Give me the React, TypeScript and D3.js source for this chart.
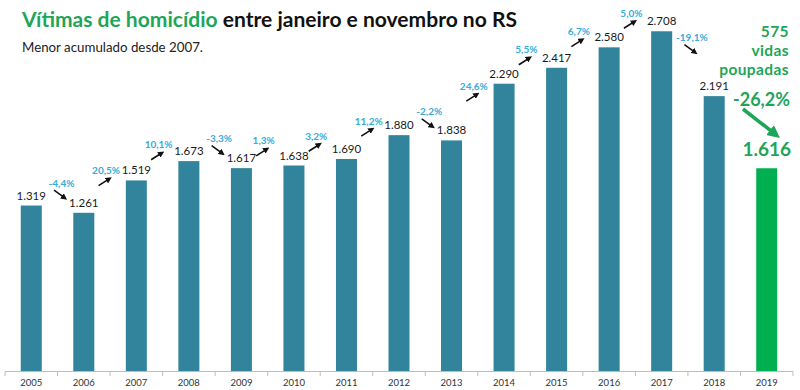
import React from "react";
import { scaleBand, scaleLinear, formatLocale } from "d3";

const years = ["2005", "2006", "2007", "2008", "2009", "2010", "2011", "2012", "2013", "2014", "2015", "2016", "2017", "2018", "2019"];
const victims = [1319, 1261, 1519, 1673, 1617, 1638, 1690, 1880, 1838, 2290, 2417, 2580, 2708, 2191, 1616];
// year-on-year change, as printed between the bars
const changes = ["-4,4%", "20,5%", "10,1%", "-3,3%", "1,3%", "3,2%", "11,2%", "-2,2%", "24,6%", "5,5%", "6,7%", "5,0%", "-19,1%", "-26,2%"];
const savedLives = 575;
const savedText = ["vidas", "poupadas"];

const W = 800;
const H = 390;
const FONT = "Lato, 'Open Sans', sans-serif";
const TEAL = "#31849b";
const GREEN_BAR = "#00b050";
const GREEN_TXT = "#1fa559";
const BLUE = "#36acd9";

const br = formatLocale({ decimal: ",", thousands: ".", grouping: [3], currency: ["R$", ""] });
const fmt = br.format(",d");

export default function App() {
  const x = scaleBand<string>().domain(years).range([5, 793]).paddingInner(0.6).paddingOuter(0.3);
  const y = scaleLinear().domain([0, 2750]).range([371, 26]);
  const step = x.step();
  const bw = x.bandwidth();
  const last = years.length - 1;

  const boundaries = years.map((d, i) => 5 + i * step).concat([5 + years.length * step]);
  const cx = (yr: string) => x(yr)! + bw / 2;

  return (
    <svg width={W} height={H} style={{ position: "absolute", left: 0, top: 0, background: "#fff" }} fontFamily={FONT}>
      <defs>
        <marker id="ah" viewBox="0 0 10 10" refX="6" refY="5" markerWidth="4" markerHeight="4" orient="auto">
          <path d="M0,0 L10,5 L0,10 z" fill="#111" />
        </marker>
        <marker id="ahg" viewBox="0 0 10 10" refX="5" refY="5" markerWidth="3.6" markerHeight="3.6" orient="auto">
          <path d="M0,0 L10,5 L0,10 z" fill={GREEN_TXT} />
        </marker>
      </defs>

      {/* title */}
      <text x={22} y={27} fontSize={21} fontWeight={700} textLength={495} lengthAdjust="spacingAndGlyphs">
        <tspan fill={GREEN_TXT}>Vítimas de homicídio</tspan>
        <tspan fill="#111"> entre janeiro e novembro no RS</tspan>
      </text>
      <text x={22} y={52} fontSize={13} fill="#222" textLength={181} lengthAdjust="spacingAndGlyphs">
        Menor acumulado desde 2007.
      </text>

      {/* bars */}
      {years.map((yr, i) => (
        <rect key={yr} x={x(yr)} y={y(victims[i])} width={bw} height={y(0) - y(victims[i])}
          fill={i === last ? GREEN_BAR : TEAL} />
      ))}

      {/* value labels */}
      {years.map((yr, i) => i === last ? (
        <text key={yr} x={cx(yr)} y={y(victims[i]) - 12} textAnchor="middle" fontSize={19}
          fontWeight={700} fill={GREEN_TXT}>{fmt(victims[i])}</text>
      ) : (
        <text key={yr} x={cx(yr)} y={y(victims[i]) - 6} textAnchor="middle" fontSize={11.5}
          fill="#1a1a1a">{fmt(victims[i])}</text>
      ))}

      {/* change labels + arrows */}
      {changes.map((c, i) => {
        if (i >= last - 1) return null;
        const bx = boundaries[i + 1];
        const avg = (y(victims[i]) + y(victims[i + 1])) / 2;
        const up = victims[i + 1] > victims[i];
        const lx = bx + (up ? -4 : 4);
        const ly = avg - 26;
        const ax = lx - 1.5;
        const ay = ly + 11;
        return (
          <g key={i}>
            <text x={lx} y={ly + 3.6} textAnchor="middle" fontSize={10} fontWeight={700} fill={BLUE}>{c}</text>
            <line x1={ax - 6} y1={up ? ay + 4 : ay - 4} x2={ax + 5} y2={up ? ay - 3 : ay + 4}
              stroke="#111" strokeWidth={1.6} markerEnd="url(#ah)" />
          </g>
        );
      })}

      {/* 2019 annotation */}
      <g fill={GREEN_TXT} fontWeight={700} fontSize={15.5} textAnchor="end" letterSpacing={0.4}>
        <text x={789} y={37}>{savedLives}</text>
        <text x={789} y={56}>{savedText[0]}</text>
        <text x={789} y={75}>{savedText[1]}</text>
      </g>
      <text x={790} y={106} fill={GREEN_TXT} fontWeight={700} fontSize={18} textAnchor="end">{changes[last - 1]}</text>
      <line x1={743} y1={109} x2={775} y2={134} stroke={GREEN_TXT} strokeWidth={3.5} markerEnd="url(#ahg)" />

      {/* axis */}
      <line x1={5} x2={793} y1={371.5} y2={371.5} stroke="#bdbdbd" />
      {boundaries.map((b, i) => (
        <line key={i} x1={b} x2={b} y1={371.5} y2={376} stroke="#bdbdbd" />
      ))}
      {years.map((yr) => (
        <text key={yr} x={cx(yr)} y={386} textAnchor="middle" fontSize={9.5} fill="#333">{yr}</text>
      ))}
    </svg>
  );
}
